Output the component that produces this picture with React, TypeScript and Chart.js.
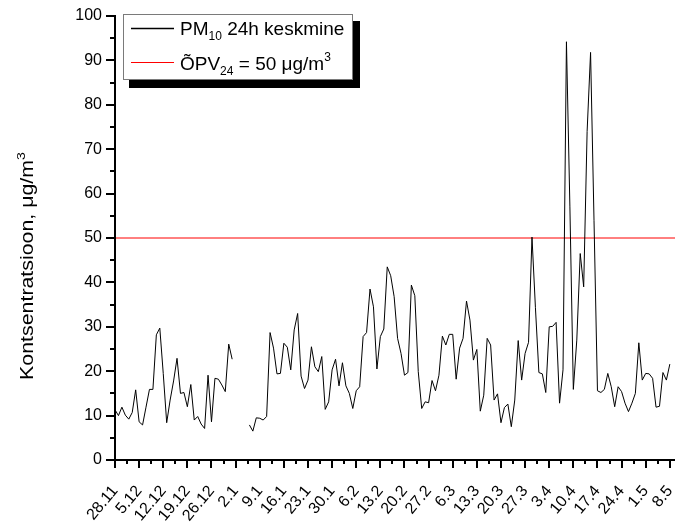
import React, { useEffect, useRef } from 'react';
import { Chart, registerables } from 'chart.js';

Chart.register(...registerables);

const xTickLabels = [
  '28.11', '5.12', '12.12', '19.12', '26.12', '2.1', '9.1', '16.1', '23.1', '30.1', '6.2', '13.2',
  '20.2', '27.2', '6.3', '13.3', '20.3', '27.3', '3.4', '10.4', '17.4', '24.4', '1.5', '8.5',
];

// PM10 daily means, one value per day from 28.11 to 8.5 (null = missing)
const pm10Values: (number | null)[] = [
  11.3, 10.0, 11.9, 10.1, 9.2, 10.7, 15.8, 8.6, 7.9, 11.9,
  15.9, 15.9, 28.2, 29.7, 19.5, 8.4, 13.5, 17.8, 22.9, 15.0,
  15.2, 12.0, 17.0, 9.0, 9.8, 8.1, 7.1, 19.1, 8.6, 18.4,
  18.2, 16.9, 15.4, 26.1, 22.7, null, null, null, null, 7.9,
  6.5, 9.5, 9.4, 9.0, 9.8, 28.7, 25.2, 19.4, 19.5, 26.3,
  25.4, 20.3, 29.3, 33.0, 18.9, 16.1, 18.0, 25.5, 21.0, 19.9,
  23.3, 11.4, 13.1, 20.3, 22.7, 16.7, 21.9, 16.7, 15.0, 11.6,
  15.6, 16.5, 27.8, 28.7, 38.5, 34.5, 20.5, 27.8, 29.5, 43.5,
  41.5, 36.8, 27.4, 24.0, 19.1, 19.7, 39.4, 37.0, 19.9, 11.6,
  13.1, 12.9, 17.9, 15.6, 19.1, 27.9, 25.9, 28.3, 28.3, 18.2,
  25.2, 27.4, 35.8, 31.5, 22.5, 24.9, 11.0, 14.6, 27.4, 25.9,
  13.5, 14.9, 8.4, 11.8, 12.6, 7.5, 13.5, 26.9, 18.0, 24.0,
  26.5, 50.2, 34.3, 19.7, 19.4, 15.2, 30.0, 30.1, 31.0, 12.8,
  20.3, 94.2, 57.0, 15.9, 27.0, 46.5, 39.0, 74.0, 91.8, 54.0,
  15.6, 15.2, 15.9, 19.5, 16.5, 12.0, 16.5, 15.4, 12.8, 10.9,
  12.8, 15.0, 26.4, 18.0, 19.5, 19.4, 18.4, 11.9, 12.1, 19.7,
  18.0, 21.6,
];

const limitValue = 50;
const yMin = 0;
const yMax = 100;
const yStep = 10;
const daysPerLabel = 7;

const FONT = '"Liberation Sans", Arial, Helvetica, sans-serif';

type Part = { t: string; size: number; dy: number };

function drawRich(ctx: CanvasRenderingContext2D, x: number, y: number, parts: Part[]) {
  let cx = x;
  for (const p of parts) {
    ctx.font = `${p.size}px ${FONT}`;
    ctx.fillText(p.t, cx, y + p.dy);
    cx += ctx.measureText(p.t).width;
  }
}

const axesPlugin = {
  id: 'customAxes',
  afterDraw(chart: any) {
    const { ctx, chartArea, scales } = chart;
    const xs = scales.x;
    const ys = scales.y;
    ctx.save();
    ctx.strokeStyle = '#000';
    ctx.lineWidth = 2;
    ctx.lineCap = 'butt';
    ctx.beginPath();
    ctx.moveTo(chartArea.left, chartArea.top - 1);
    ctx.lineTo(chartArea.left, chartArea.bottom + 1);
    ctx.stroke();
    ctx.beginPath();
    ctx.moveTo(chartArea.left - 9, chartArea.bottom);
    ctx.lineTo(chartArea.right, chartArea.bottom);
    ctx.stroke();
    for (let v = yMin; v <= yMax + 1e-9; v += yStep / 2) {
      const py = Math.round(ys.getPixelForValue(v));
      const major = Math.abs(v % yStep) < 1e-9;
      const len = major ? 9 : 5;
      ctx.beginPath();
      ctx.moveTo(chartArea.left - len, py);
      ctx.lineTo(chartArea.left, py);
      ctx.stroke();
    }
    const lastDay = (xTickLabels.length - 1) * daysPerLabel;
    for (let d = 0; d <= lastDay + 1e-9; d += daysPerLabel / 2) {
      const px = Math.round(xs.getPixelForValue(d));
      const major = Math.abs(d % daysPerLabel) < 1e-9;
      const len = major ? 8 : 4;
      ctx.beginPath();
      ctx.moveTo(px, chartArea.bottom);
      ctx.lineTo(px, chartArea.bottom + len);
      ctx.stroke();
    }
    ctx.restore();
  },
};

const decorPlugin = {
  id: 'decor',
  afterDraw(chart: any) {
    const { ctx } = chart;
    ctx.save();
    ctx.fillStyle = '#000';
    ctx.fillRect(129, 21, 231, 67);
    ctx.fillStyle = '#fff';
    ctx.fillRect(123, 14, 230, 66);
    ctx.strokeStyle = '#7a7a7a';
    ctx.lineWidth = 1;
    ctx.strokeRect(123.5, 14.5, 229, 65);
    ctx.strokeStyle = '#000';
    ctx.lineWidth = 1.5;
    ctx.beginPath();
    ctx.moveTo(131, 28.5);
    ctx.lineTo(174, 28.5);
    ctx.stroke();
    ctx.strokeStyle = '#ff0000';
    ctx.lineWidth = 1;
    ctx.beginPath();
    ctx.moveTo(131, 62.5);
    ctx.lineTo(174, 62.5);
    ctx.stroke();
    ctx.fillStyle = '#000';
    ctx.textBaseline = 'alphabetic';
    ctx.textAlign = 'left';
    drawRich(ctx, 180, 35, [
      { t: 'PM', size: 19, dy: 0 },
      { t: '10', size: 12, dy: 5 },
      { t: ' 24h keskmine', size: 19, dy: 0 },
    ]);
    drawRich(ctx, 180, 70, [
      { t: 'ÕPV', size: 19, dy: 0 },
      { t: '24', size: 12, dy: 5 },
      { t: ' = 50 μg/m', size: 19, dy: 0 },
      { t: '3', size: 12, dy: -9 },
    ]);
    ctx.translate(33, 266);
    ctx.rotate(-Math.PI / 2);
    ctx.scale(1.22, 1);
    const parts: Part[] = [
      { t: 'Kontsentratsioon, μg/m', size: 17.5, dy: 0 },
      { t: '3', size: 11.5, dy: -8 },
    ];
    let w = 0;
    for (const p of parts) {
      ctx.font = `${p.size}px ${FONT}`;
      w += ctx.measureText(p.t).width;
    }
    drawRich(ctx, -w / 2, 0, parts);
    ctx.restore();
  },
};

export default function App() {
  const ref = useRef<HTMLCanvasElement>(null);
  useEffect(() => {
    document.body.style.margin = '0';
    const canvas = ref.current;
    if (!canvas) return;
    const xMax = (xTickLabels.length - 1) * daysPerLabel + 1.5;
    const chart = new Chart(canvas, {
      type: 'line',
      data: {
        datasets: [
          {
            label: 'PM10 24h keskmine',
            data: pm10Values.map((v, i) => ({ x: i, y: v })) as any,
            borderColor: '#000',
            borderWidth: 1,
            pointRadius: 0,
            spanGaps: false,
            tension: 0,
          },
          {
            label: 'ÕPV24 = 50 μg/m3',
            data: [
              { x: 0, y: limitValue },
              { x: xMax, y: limitValue },
            ] as any,
            borderColor: '#ff0000',
            borderWidth: 1,
            pointRadius: 0,
          },
        ],
      },
      options: {
        animation: false,
        responsive: false,
        events: [],
        layout: { padding: { left: 0, top: 16, right: 0, bottom: 0 } },
        plugins: { legend: { display: false }, tooltip: { enabled: false } },
        scales: {
          x: {
            type: 'linear',
            min: 0,
            max: xMax,
            grid: { display: false, drawTicks: false },
            border: { display: false },
            afterBuildTicks: (s: any) => {
              s.ticks = xTickLabels.map((_, i) => ({ value: i * daysPerLabel }));
            },
            afterFit: (s: any) => {
              s.height = 69;
              s.paddingLeft = 0;
              s.paddingRight = 0;
            },
            ticks: {
              autoSkip: false,
              minRotation: 50,
              maxRotation: 50,
              padding: 22,
              color: '#000',
              font: { family: FONT, size: 16 },
              callback: (_v: any, i: number) => xTickLabels[i],
            },
          },
          y: {
            min: yMin,
            max: yMax,
            grid: { display: false, drawTicks: false },
            border: { display: false },
            afterFit: (s: any) => {
              s.width = 115;
              s.paddingTop = 0;
              s.paddingBottom = 0;
            },
            ticks: {
              stepSize: yStep,
              padding: 13,
              color: '#000',
              font: { family: FONT, size: 16 },
            },
          },
        },
      },
      plugins: [axesPlugin, decorPlugin],
    });
    return () => chart.destroy();
  }, []);
  return <canvas ref={ref} width={675} height={529} style={{ display: 'block' }} />;
}
